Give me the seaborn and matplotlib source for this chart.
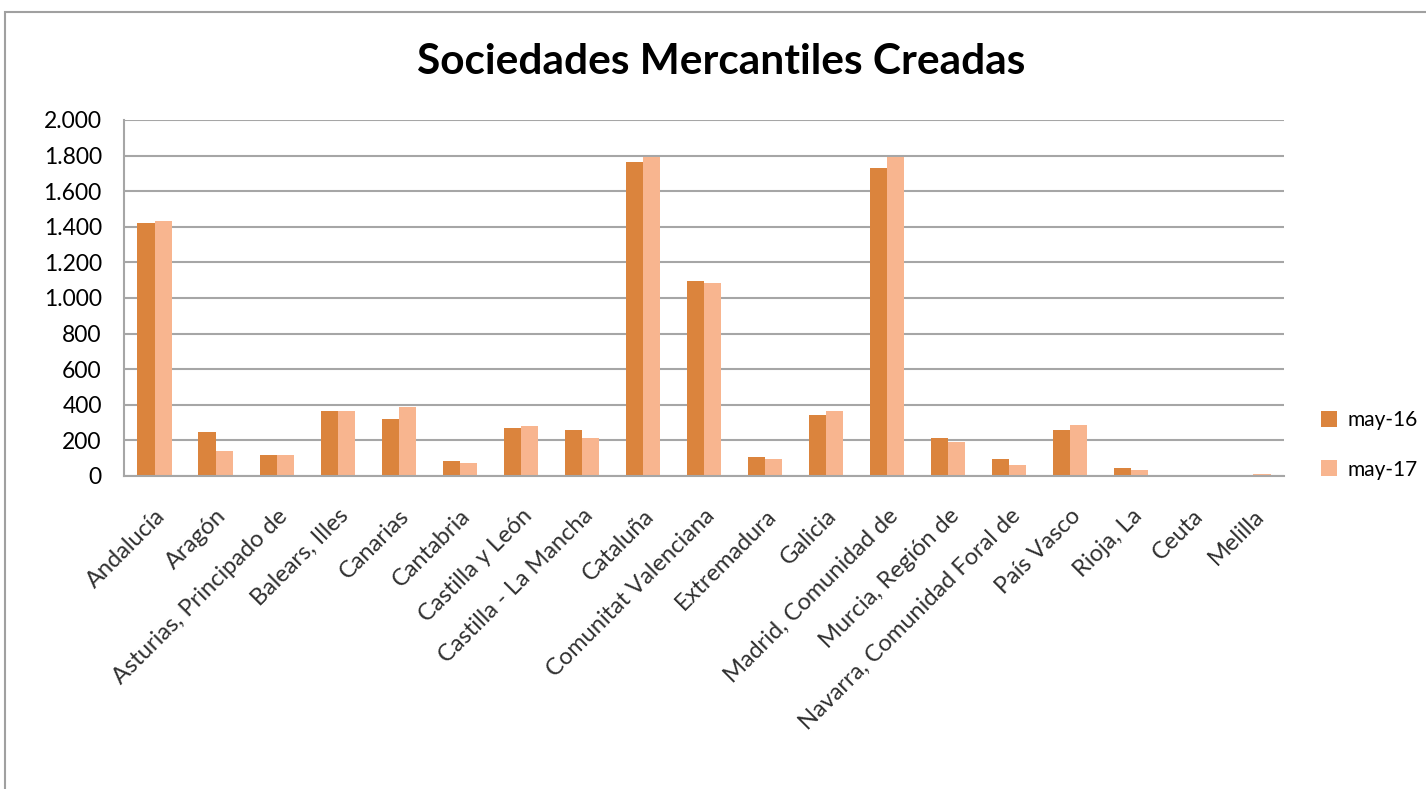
import matplotlib
matplotlib.use("Agg")
import matplotlib.pyplot as plt
import matplotlib.ticker as mticker
from matplotlib.patches import Rectangle
import seaborn as sns
import pandas as pd

regiones = ["Andalucía", "Aragón", "Asturias, Principado de", "Balears, Illes", "Canarias",
            "Cantabria", "Castilla y León", "Castilla - La Mancha", "Cataluña",
            "Comunitat Valenciana", "Extremadura", "Galicia", "Madrid, Comunidad de",
            "Murcia, Región de", "Navarra, Comunidad Foral de", "País Vasco", "Rioja, La",
            "Ceuta", "Melilla"]
may16 = [1419, 245, 118, 365, 322, 84, 270, 257, 1762, 1096, 107, 343, 1730, 213, 94, 257, 47, 0, 0]
may17 = [1431, 139, 118, 366, 388, 75, 279, 213, 1790, 1084, 95, 363, 1790, 193, 64, 288, 36, 0, 12]
series = ["may-16", "may-17"]
colores = ["#DB843D", "#F8B58F"]
yticks = [0, 200, 400, 600, 800, 1000, 1200, 1400, 1600, 1800, 2000]

df = pd.DataFrame({
    "region": regiones * 2,
    "valor": may16 + may17,
    "serie": [series[0]] * len(regiones) + [series[1]] * len(regiones),
})

sns.set_theme(style="white")
plt.rcParams["font.family"] = ["Lato", "DejaVu Sans"]
plt.rcParams["text.color"] = "black"

W, H = 1426, 789
fig = plt.figure(figsize=(W / 100, H / 100), dpi=100)
ax = fig.add_axes([124 / W, 1 - 476 / H, (1284 - 124) / W, (476 - 120) / H])

sns.barplot(data=df, x="region", y="valor", hue="serie", palette=colores,
            width=0.56, ax=ax, legend=True, saturation=1, edgecolor="none")

ax.set_ylim(0, 2000)
ax.set_xlim(-0.5, len(regiones) - 0.5)
ax.set_yticks(yticks)
ax.yaxis.set_major_formatter(mticker.FuncFormatter(lambda v, p: f"{int(v):,}".replace(",", ".")))
ax.grid(axis="y", color="#A6A6A6", linewidth=1.5)
ax.set_axisbelow(True)
for s in ["top", "right"]:
    ax.spines[s].set_visible(False)
for s in ["left", "bottom"]:
    ax.spines[s].set_color("#A6A6A6")
    ax.spines[s].set_linewidth(1.5)
ax.tick_params(axis="y", length=0, labelsize=16.5, colors="black", pad=16)
ax.tick_params(axis="x", length=0, labelsize=17, colors="#303030", pad=21)
ax.set_xticks(range(len(regiones)))
ax.set_xticklabels(regiones, rotation=45, ha="right", rotation_mode="anchor")
ax.set_xlabel("")
ax.set_ylabel("")

h, l = ax.get_legend_handles_labels()
ax.get_legend().remove()
fig.legend(h, l, loc="center left", bbox_to_anchor=(1302 / W, 1 - 445 / H), frameon=False,
           fontsize=15, handlelength=0.8, handleheight=0.8, labelspacing=1.4, handletextpad=0.5)

fig.text(721 / W, 1 - 62 / H, "Sociedades Mercantiles Creadas", ha="center", va="center",
         fontsize=30.5, fontweight="bold", color="black")

fig.patches.append(Rectangle((5 / W, -0.01), 1.02, 1 - 12 / H + 0.01, transform=fig.transFigure,
                             fill=False, edgecolor="#A0A0A0", linewidth=1.5))

fig.savefig("out.png", dpi=100)
